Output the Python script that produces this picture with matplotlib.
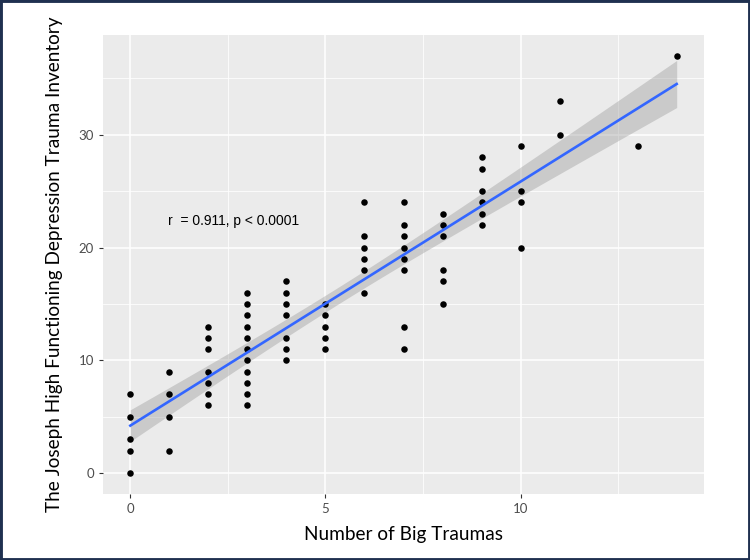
import numpy as np
import matplotlib.pyplot as plt
from matplotlib.patches import Rectangle

# number of big traumas (x) and inventory scores (y)
traumas = [0]*5 + [1]*4 + [2]*7 + [3]*11 + [4]*7 + [5]*5 + [6]*6 + [7]*8 \
    + [8]*6 + [9]*6 + [10]*4 + [11]*2 + [13] + [14]
scores = [7, 5, 3, 2, 0,
          9, 7, 5, 2,
          13, 12, 11, 9, 8, 7, 6,
          16, 15, 14, 13, 12, 11, 10, 9, 8, 7, 6,
          17, 16, 15, 14, 12, 11, 10,
          15, 14, 13, 12, 11,
          24, 21, 20, 19, 18, 16,
          24, 22, 21, 20, 19, 18, 13, 11,
          23, 22, 21, 18, 17, 15,
          28, 27, 25, 24, 23, 22,
          29, 25, 24, 20,
          33, 30,
          29,
          37]
x_ticks = [0, 5, 10]
y_ticks = [0, 10, 20, 30]
annot = "r  = 0.911, p < 0.0001"

x = np.array(traumas, dtype=float)
y = np.array(scores, dtype=float)

# linear fit + 95% confidence band (like geom_smooth(method="lm"))
n = len(x)
b1, b0 = np.polyfit(x, y, 1)
xs = np.linspace(x.min(), x.max(), 100)
ys = b0 + b1*xs
resid = y - (b0 + b1*x)
s = np.sqrt(np.sum(resid**2)/(n-2))
se = s*np.sqrt(1/n + (xs-x.mean())**2/np.sum((x-x.mean())**2))
t = 1.994
lo, hi = ys - t*se, ys + t*se

fig = plt.figure(figsize=(7.5, 5.6), dpi=100)
ax = fig.add_axes([103/750, 1-494/560, 601/750, 459/560])
ax.set_facecolor('#ebebeb')

ax.fill_between(xs, lo, hi, color='#999999', alpha=0.4, linewidth=0, zorder=2)
ax.scatter(x, y, s=22, color='black', linewidths=0, zorder=3)
ax.plot(xs, ys, color='#3366ff', linewidth=1.9, zorder=4)

ax.text(2.64, 22.4, annot, ha='center', va='center', fontsize=10,
        family='Liberation Sans', color='black')

ax.set_xlim(-0.7, 14.7)
ax.set_ylim(-1.85, 38.85)
ax.set_xticks(x_ticks)
ax.set_yticks(y_ticks)
ax.set_xticks([2.5, 7.5, 12.5], minor=True)
ax.set_yticks([5, 15, 25, 35], minor=True)
ax.grid(which='major', color='white', linewidth=1.1)
ax.grid(which='minor', color='white', linewidth=0.55)
ax.set_axisbelow(True)
for sp in ax.spines.values():
    sp.set_visible(False)
ax.tick_params(which='major', length=3, color='#333333', labelcolor='#4d4d4d',
               labelsize=9.5, width=0.8)
ax.tick_params(which='minor', length=0)
for lab in ax.get_xticklabels() + ax.get_yticklabels():
    lab.set_family('Lato')

ax.set_xlabel('Number of Big Traumas', fontsize=13.7, family='Lato', labelpad=8)
ax.set_ylabel('The Joseph High Functioning Depression Trauma Inventory',
              fontsize=13.7, family='Lato', labelpad=11)

# dark frame round the whole picture
fig.patches.append(Rectangle((0, 0), 1, 1, transform=fig.transFigure,
                             fill=False, edgecolor='#1f3050', linewidth=3.5))

fig.savefig('out.png', dpi=100)
